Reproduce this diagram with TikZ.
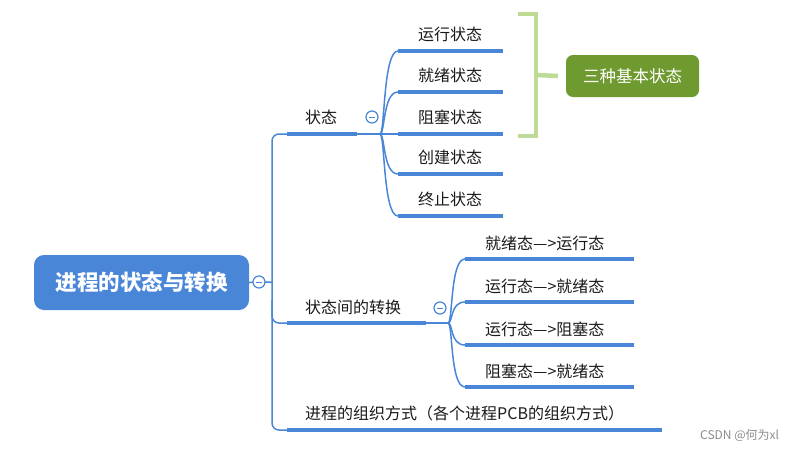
\documentclass[tikz,border=0pt]{standalone}
\usepackage{fontspec}
\setmainfont{Noto Sans CJK SC}
\usetikzlibrary{calc}
\definecolor{mblue}{HTML}{4A86D8}
\definecolor{mgreen}{HTML}{6E9A2F}
\definecolor{lgreen}{HTML}{BEDB96}
\definecolor{tgray}{HTML}{1A1A1A}
\begin{document}
\begin{tikzpicture}[x=1pt,y=-1pt,
 lbl/.style={anchor=west, inner sep=0pt, font=\fontsize{16}{19}\selectfont, text=tgray},
 uline/.style={draw=mblue, line width=4pt},
 thinline/.style={draw=mblue, line width=1.5pt},
 fold/.style={circle, draw=mblue, fill=white, line width=1.2pt, minimum size=12pt, inner sep=0pt,
   path picture={\draw[mblue, line width=1pt] ($(path picture bounding box.center)+(-3,0)$) -- ($(path picture bounding box.center)+(3,0)$);}},
]
\useasboundingbox (0,0) rectangle (802,450);

% root
\node[fill=mblue, rounded corners=10pt, minimum width=215pt, minimum height=55pt, inner sep=0pt,
  text=white, font=\fontsize{21.5}{25}\selectfont\bfseries] (root) at (141.5,282.5) {进程的状态与转换};

% trunk coordinates
\coordinate (rj) at (272,282);
\coordinate (tt) at (272,134);
\coordinate (tb) at (272,430);
\coordinate (tm) at (272,300);

% first-level underlines
\coordinate (s1a) at (287,134); \coordinate (s1b) at (357,134);
\coordinate (s2a) at (287,323); \coordinate (s2b) at (426,323);
\coordinate (s3a) at (287,430); \coordinate (s3b) at (662,430);

\draw[thinline] (root.east) -- (rj);
\draw[thinline, rounded corners=7pt] (s1a) -- (tt) -- (tb) -- (s3a);
\draw[thinline, rounded corners=7pt] (tm) |- (s2a);

\draw[uline] (s1a) -- (s1b);
\draw[uline] (s2a) -- (s2b);
\draw[uline] (s3a) -- (s3b);

\node[lbl] (n1) at (305,117) {状态};
\node[lbl] (n2) at (305,307) {状态间的转换};
\node[lbl] (n3) at (305,413) {进程的组织方式（各个进程PCB的组织方式）};

% hubs
\coordinate (h1) at (380,134);
\coordinate (h2) at (448,323);
\draw[thinline] (s1b) -- (h1);
\draw[thinline] (s2b) -- (h2);

% children of 状态
\foreach \i/\y/\t in {1/51/运行状态, 2/92/就绪状态, 3/134/阻塞状态, 4/174/创建状态, 5/216/终止状态}{
  \coordinate (c\i a) at (398,\y);
  \coordinate (c\i b) at (503,\y);
  \draw[thinline] (h1) .. controls ($(h1)+(5,0)$) and ($(c\i a)+(-15,0)$) .. (c\i a);
  \draw[uline] (c\i a) -- (c\i b);
  \node[lbl] (cl\i) at (418,\y-17) {\t};
}

% children of 状态间的转换
\foreach \i/\y/\t in {1/259/就绪态—>运行态, 2/302/运行态—>就绪态, 3/345/运行态—>阻塞态, 4/387/阻塞态—>就绪态}{
  \coordinate (d\i a) at (465,\y);
  \coordinate (d\i b) at (634,\y);
  \draw[thinline] (h2) .. controls ($(h2)+(5,0)$) and ($(d\i a)+(-15,0)$) .. (d\i a);
  \draw[uline] (d\i a) -- (d\i b);
  \node[lbl] (dl\i) at (485,\y-16) {\t};
}

% fold markers
\node[fold] (f0) at (259,282) {};
\node[fold] (f1) at (372,117) {};
\node[fold] (f2) at (440,308) {};

% green bracket and summary
\coordinate (ga) at (518,14);
\coordinate (gb) at (536,14);
\coordinate (gc) at (536,136);
\coordinate (gd) at (518,136);
\coordinate (gm) at (536,75);
\draw[draw=lgreen, line width=4.5pt] (ga) -- (gb) -- (gc) -- (gd);
\node[fill=mgreen, rounded corners=7pt, minimum width=133pt, minimum height=42pt, inner sep=0pt,
  text=white, font=\fontsize{16.5}{19}\selectfont] (sum) at (632.5,76) {三种基本状态};
\draw[draw=lgreen, line width=4.5pt] (gm) -- ($(sum.west)+(-8,0)$) coordinate (ge);

% watermark
\node[anchor=west, inner sep=0pt, text=black!45, font=\fontsize{12}{14}\selectfont] (wm) at (700,435) {CSDN @何为xl};
\end{tikzpicture}
\end{document}
